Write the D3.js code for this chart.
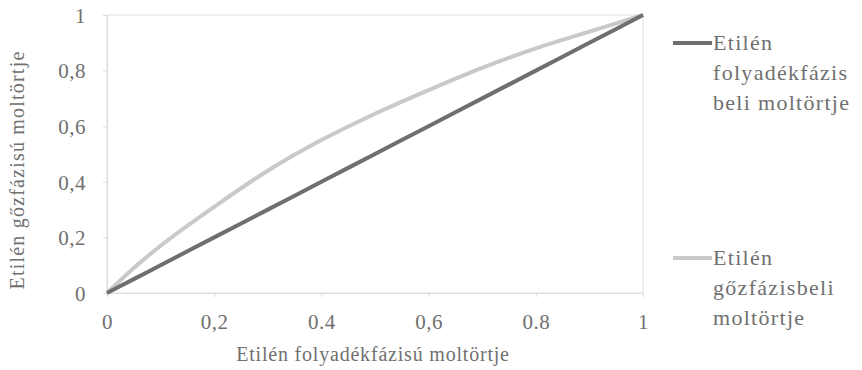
<!DOCTYPE html>
<html><head><meta charset="utf-8">
<script src="https://cdn.jsdelivr.net/npm/d3@7"></script>
<style>body{margin:0;background:#fff}svg{display:block}svg text{font-family:"Liberation Serif","Times New Roman","DejaVu Serif",serif}</style>
</head><body><svg id="c" width="862" height="370"></svg>
<script>
const xVals = [0, 0.05, 0.1, 0.2, 0.3, 0.4, 0.5, 0.6, 0.7, 0.8, 0.9, 1];
const liquidY = [0, 0.05, 0.1, 0.2, 0.3, 0.4, 0.5, 0.6, 0.7, 0.8, 0.9, 1];
const vaporY = [0, 0.09, 0.17, 0.31, 0.44, 0.55, 0.645, 0.73, 0.81, 0.88, 0.94, 1];
const tickVals = [0, 0.2, 0.4, 0.6, 0.8, 1];
const xTickLabels = ["0", "0,2", "0.4", "0,6", "0.8", "1"];
const yTickLabels = ["0", "0,2", "0,4", "0,6", "0,8", "1"];
const seriesNames = [["Etilén", "folyadékfázis", "beli moltörtje"], ["Etilén", "gőzfázisbeli", "moltörtje"]];
const colors = ["#6f6f6f", "#c9c9c9"];

const svg = d3.select("#c");
const L = 107, R = 643, T = 15, B = 293;
const x = d3.scaleLinear().domain([0, 1]).range([L, R]);
const y = d3.scaleLinear().domain([0, 1]).range([B, T]);
const txt = "#707070";

svg.append("rect").attr("x", L).attr("y", T).attr("width", R - L).attr("height", B - T)
  .attr("fill", "none").attr("stroke", "#e2e2e2").attr("stroke-width", 1);

const xa = svg.append("g").attr("transform", `translate(0,${B})`)
  .call(d3.axisBottom(x).tickValues(tickVals).tickSize(4).tickFormat((d, i) => xTickLabels[i]));
const ya = svg.append("g").attr("transform", `translate(${L},0)`)
  .call(d3.axisLeft(y).tickValues(tickVals).tickSize(4).tickFormat((d, i) => yTickLabels[i]));
[xa, ya].forEach(a => {
  a.attr("font-family", null).attr("font-size", null);
  a.select(".domain").attr("stroke", "#dcdcdc");
  a.selectAll(".tick line").attr("stroke", "#dcdcdc");
  a.selectAll("text").attr("fill", txt).style("font-size", "21px").style("letter-spacing", "0.5px");
});
xa.selectAll("text").attr("dy", "0").attr("y", 36);
ya.selectAll("text").attr("x", -21).attr("dy", "0.35em");

const data = xVals.map((v, i) => ({ x: v, l: liquidY[i], v: vaporY[i] }));
const line = key => d3.line().x(d => x(d.x)).y(d => y(d[key])).curve(d3.curveMonotoneX);
svg.append("path").datum(data).attr("d", line("v")).attr("fill", "none")
  .attr("stroke", colors[1]).attr("stroke-width", 4);
svg.append("path").datum(data).attr("d", line("l")).attr("fill", "none")
  .attr("stroke", colors[0]).attr("stroke-width", 4);

svg.append("text").attr("x", 373).attr("y", 361).attr("text-anchor", "middle")
  .style("font-size", "20px").style("letter-spacing", "0.8px").attr("fill", txt)
  .text("Etilén folyadékfázisú moltörtje");
svg.append("text").attr("transform", "translate(24,170) rotate(-90)").attr("text-anchor", "middle")
  .style("font-size", "20px").style("letter-spacing", "1.2px").attr("fill", txt)
  .text("Etilén gőzfázisú moltörtje");

const legY = [43, 258];
seriesNames.forEach((lines, i) => {
  const g = svg.append("g");
  g.append("line").attr("x1", 673).attr("x2", 712).attr("y1", legY[i]).attr("y2", legY[i])
    .attr("stroke", colors[i]).attr("stroke-width", 4);
  lines.forEach((t, j) => {
    g.append("text").attr("x", 713).attr("y", legY[i] + 7 + j * 30)
      .style("font-size", "22px").style("letter-spacing", "1.3px").attr("fill", txt).text(t);
  });
});
</script></body></html>
